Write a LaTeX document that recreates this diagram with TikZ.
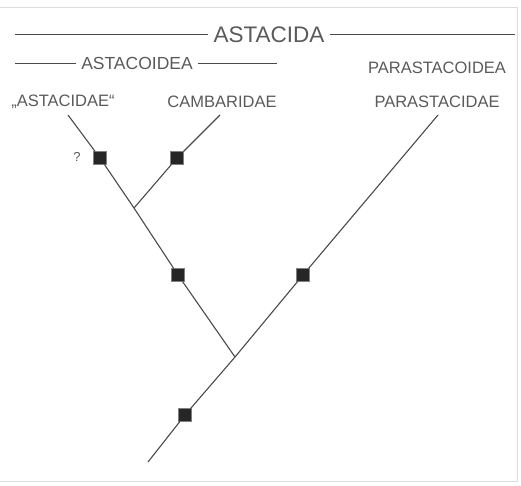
\documentclass[tikz,border=0pt]{standalone}
\usepackage{fontspec}
\setmainfont{Liberation Sans}
\definecolor{inkgray}{HTML}{4A4A4A}
\definecolor{textgray}{HTML}{5A5A5A}
\definecolor{framegray}{HTML}{DDDDDD}
\tikzset{
  taxon/.style={text=textgray, font=\fontsize{16.5}{18}\selectfont, inner sep=1pt},
  branch/.style={inkgray, line width=1.1pt},
  synapo/.style={draw=gray, fill=black!85, line width=0.6pt, minimum size=12.5pt, inner sep=0pt},
}
\begin{document}
\begin{tikzpicture}[x=1pt, y=-1pt]
    \useasboundingbox (0,0) rectangle (521,485);
    % frame
    \draw[framegray, line width=1pt] (0,7) -- (517,7) -- (517,481) -- (0,481);

    % group labels
    \node[taxon, font=\fontsize{22.5}{25}\selectfont, inner sep=5pt] (astacida) at (269,35) {ASTACIDA};
    \node[taxon, font=\fontsize{17.5}{20}\selectfont, inner sep=5pt] (astacoidea) at (137,63) {ASTACOIDEA};
    \node[taxon] (parastacoidea) at (437,68) {PARASTACOIDEA};
    \coordinate (ltop) at (15,34);
    \coordinate (rtop) at (515,34);
    \coordinate (lmid) at (15,63);
    \coordinate (rmid) at (277,63);
    \draw[inkgray, line width=0.8pt] (ltop) -- (ltop -| astacida.west);
    \draw[inkgray, line width=0.8pt] (rtop -| astacida.east) -- (rtop);
    \draw[inkgray, line width=0.8pt] (lmid) -- (lmid -| astacoidea.west);
    \draw[inkgray, line width=0.8pt] (rmid -| astacoidea.east) -- (rmid);

    % terminal taxa
    \node[taxon] (astacidae) at (63,102) {„ASTACIDAE“};
    \node[taxon] (cambaridae) at (222,102) {CAMBARIDAE};
    \node[taxon] (parastacidae) at (437,102) {PARASTACIDAE};

    % tree
    \coordinate (tipA) at (68,115);
    \coordinate (tipC) at (220,115);
    \coordinate (tipP) at (438,115);
    \coordinate (forkAC) at (134,208);
    \coordinate (forkRoot) at (235,357);
    \coordinate (base) at (148,462);
    \node[synapo] (sqA) at (100,158) {};
    \node[synapo] (sqC) at (177,158) {};
    \node[synapo] (sqAC) at (178,275) {};
    \node[synapo] (sqP) at (303,275) {};
    \node[synapo] (sqRoot) at (185,415) {};
    \node[text=textgray, font=\fontsize{13}{15}\selectfont] (query) at (77,157) {?};

    \draw[branch] (tipA) -- (sqA) -- (forkAC);
    \draw[branch] (tipC) -- (sqC) -- (forkAC);
    \draw[branch] (forkAC) -- (sqAC) -- (forkRoot);
    \draw[branch] (tipP) -- (sqP) -- (forkRoot);
    \draw[branch] (forkRoot) -- (sqRoot) -- (base);
\end{tikzpicture}
\end{document}
